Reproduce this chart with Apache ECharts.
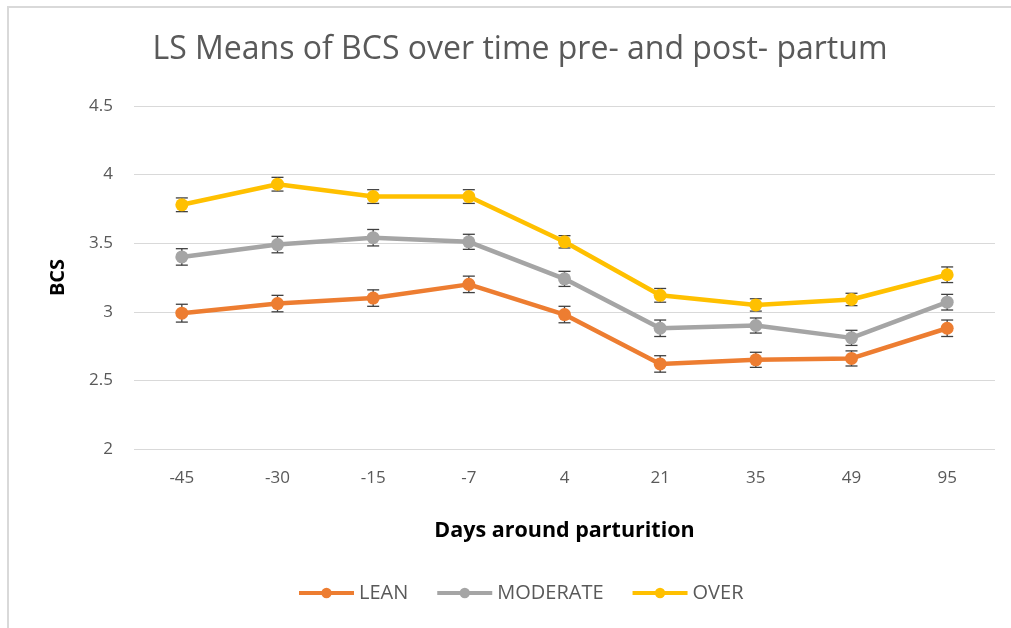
<!DOCTYPE html>
<html>
<head>
<meta charset="utf-8">
<title>LS Means of BCS</title>
<script src="https://cdn.jsdelivr.net/npm/echarts@6/dist/echarts.min.js"></script>
<style>
  html, body { margin: 0; padding: 0; background: #fff; }
  #main { width: 1011px; height: 628px; }
</style>
</head>
<body>
<div id="main"></div>
<script>
// x categories (days around parturition)
var days = ["-45", "-30", "-15", "-7", "4", "21", "35", "49", "95"];

// LS means
var lean = [2.99, 3.06, 3.10, 3.20, 2.98, 2.62, 2.65, 2.66, 2.88];
var moderate = [3.40, 3.49, 3.54, 3.51, 3.24, 2.88, 2.90, 2.81, 3.07];
var over = [3.78, 3.93, 3.84, 3.84, 3.51, 3.12, 3.05, 3.09, 3.27];

// standard errors (half bar length)
var leanErr = [0.065, 0.06, 0.06, 0.06, 0.06, 0.06, 0.055, 0.055, 0.06];
var moderateErr = [0.06, 0.06, 0.06, 0.055, 0.055, 0.06, 0.055, 0.055, 0.057];
var overErr = [0.05, 0.05, 0.05, 0.05, 0.045, 0.05, 0.045, 0.045, 0.057];

var colors = { LEAN: "#ED7D31", MODERATE: "#A5A5A5", OVER: "#FFC000" };
var textFont = "Open Sans";

function errorData(means, errs) {
  return means.map(function (m, i) {
    return [i, m - errs[i], m + errs[i]];
  });
}

// draws an error bar with caps through the axes
function renderError(params, api) {
  var x = api.value(0);
  var low = api.coord([x, api.value(1)]);
  var high = api.coord([x, api.value(2)]);
  var half = 6;
  var style = { stroke: "#404040", lineWidth: 1.3 };
  return {
    type: "group",
    children: [
      { type: "line", shape: { x1: low[0], y1: low[1], x2: high[0], y2: high[1] }, style: style },
      { type: "line", shape: { x1: low[0] - half, y1: low[1], x2: low[0] + half, y2: low[1] }, style: style },
      { type: "line", shape: { x1: high[0] - half, y1: high[1], x2: high[0] + half, y2: high[1] }, style: style }
    ]
  };
}

function lineSeries(name, values) {
  return {
    name: name,
    type: "line",
    data: values,
    symbol: "circle",
    symbolSize: 13,
    z: 3,
    lineStyle: { width: 4.5, color: colors[name] },
    itemStyle: { color: colors[name] }
  };
}

function errorSeries(name, means, errs) {
  return {
    name: name + " err",
    type: "custom",
    renderItem: renderError,
    data: errorData(means, errs),
    z: 2,
    silent: true
  };
}

var myChart = echarts.init(document.getElementById("main"));

var option = {
  animation: false,
  backgroundColor: "#fff",
  textStyle: { fontFamily: textFont },
  title: {
    text: "LS Means of BCS over time pre- and post- partum",
    left: 515,
    textAlign: "center",
    top: 29,
    textStyle: { fontFamily: textFont, fontSize: 32, fontWeight: "normal", color: "#595959" }
  },
  graphic: [
    {
      type: "line",
      shape: { x1: 7, y1: 7, x2: 1011, y2: 7 },
      style: { stroke: "#d9d9d9", lineWidth: 2 },
      silent: true
    },
    {
      type: "line",
      shape: { x1: 8, y1: 7, x2: 8, y2: 628 },
      style: { stroke: "#d9d9d9", lineWidth: 2 },
      silent: true
    }
  ],
  legend: {
    data: ["LEAN", "MODERATE", "OVER"],
    left: 292,
    top: 578,
    itemWidth: 55,
    itemHeight: 13,
    itemGap: 27,
    lineStyle: { width: 4 },
    textStyle: { fontFamily: textFont, fontSize: 20, color: "#595959" }
  },
  grid: { left: 134, right: 16, top: 106, bottom: 179 },
  xAxis: {
    type: "category",
    data: days,
    boundaryGap: true,
    axisLine: { show: false },
    axisTick: { show: false },
    axisLabel: { margin: 21, fontSize: 17, color: "#595959", fontFamily: textFont },
    name: "Days around parturition",
    nameLocation: "middle",
    nameGap: 71,
    nameTextStyle: { fontFamily: textFont, fontSize: 21.5, fontWeight: "bold", color: "#000" }
  },
  yAxis: {
    type: "value",
    min: 2,
    max: 4.5,
    interval: 0.5,
    axisLine: { show: false },
    axisTick: { show: false },
    splitLine: { lineStyle: { color: "#d9d9d9", width: 1.2 } },
    axisLabel: { margin: 21, fontSize: 17, color: "#595959", fontFamily: textFont },
    name: "BCS",
    nameLocation: "middle",
    nameGap: 66,
    nameRotate: 90,
    nameTextStyle: { fontFamily: textFont, fontSize: 20, fontWeight: "bold", color: "#000" }
  },
  series: [
    errorSeries("LEAN", lean, leanErr),
    errorSeries("MODERATE", moderate, moderateErr),
    errorSeries("OVER", over, overErr),
    lineSeries("LEAN", lean),
    lineSeries("MODERATE", moderate),
    lineSeries("OVER", over)
  ]
};

myChart.setOption(option);
</script>
</body>
</html>
